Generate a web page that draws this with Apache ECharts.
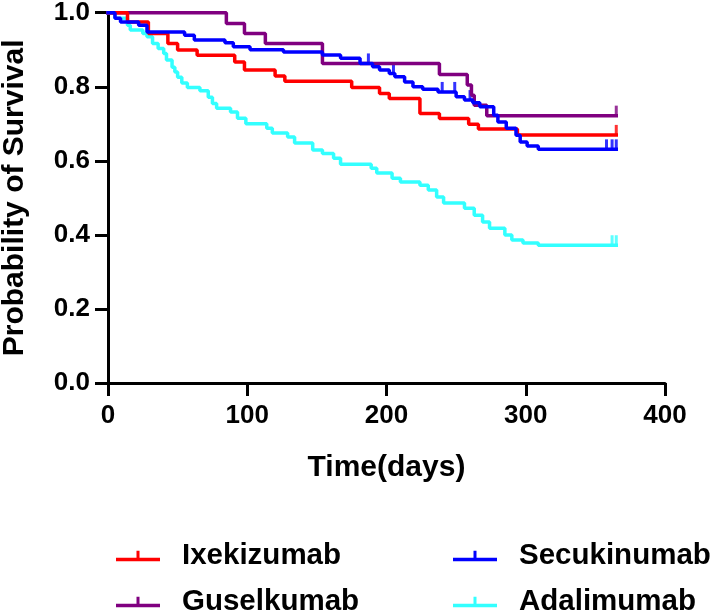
<!DOCTYPE html>
<html><head><meta charset="utf-8">
<script src="https://cdn.jsdelivr.net/npm/echarts@6/dist/echarts.min.js"></script>
<style>html,body{margin:0;padding:0;background:#fff}#c{width:711px;height:615px}</style>
</head><body><div id="c"></div>
<script>
const xTicks = [0, 100, 200, 300, 400];
const yTicks = [0, 0.2, 0.4, 0.6, 0.8, 1.0];

const seriesNames = ['Ixekizumab', 'Secukinumab', 'Guselkumab', 'Adalimumab'];

const ixeTime = [0, 14, 29, 43, 50, 64, 91, 98, 120, 127, 175, 195, 202, 224, 238, 259, 266, 294, 365];
const ixeSurv = [1.0, 0.975, 0.944, 0.917, 0.899, 0.885, 0.867, 0.845, 0.829, 0.815, 0.798, 0.782, 0.768, 0.728, 0.714, 0.699, 0.686, 0.670, 0.670];
const ixeCensor = [365];

const secTime = [0, 5, 9, 22, 28, 55, 62, 84, 90, 102, 126, 154, 167, 181, 190, 195, 202, 206, 213, 219, 226, 237, 250, 256, 262, 267, 277, 280, 286, 293, 296, 301, 309, 365];
const secSurv = [1.0, 0.985, 0.975, 0.966, 0.948, 0.939, 0.926, 0.919, 0.908, 0.900, 0.894, 0.886, 0.877, 0.863, 0.854, 0.845, 0.836, 0.827, 0.813, 0.800, 0.793, 0.786, 0.773, 0.764, 0.757, 0.746, 0.723, 0.705, 0.688, 0.669, 0.651, 0.640, 0.631, 0.631];
const secCensor = [187, 205, 240, 249, 260, 358, 362, 365];

const gusTime = [0, 85, 98, 113, 154, 238, 258, 261, 263, 272, 365];
const gusSurv = [1.0, 0.971, 0.944, 0.917, 0.863, 0.833, 0.805, 0.777, 0.750, 0.722, 0.722];
const gusCensor = [365];

const adaTime = [0, 5, 14, 16, 25, 28, 32, 36, 40, 42, 46, 48, 50, 53, 57, 66, 72, 75, 78, 88, 93, 99, 114, 118, 129, 134, 147, 154, 162, 167, 189, 193, 204, 210, 224, 230, 236, 241, 256, 263, 269, 274, 285, 290, 298, 309, 365];
const adaSurv = [1.0, 0.985, 0.966, 0.953, 0.944, 0.935, 0.917, 0.903, 0.890, 0.872, 0.853, 0.840, 0.826, 0.810, 0.798, 0.789, 0.772, 0.755, 0.742, 0.732, 0.715, 0.700, 0.688, 0.675, 0.664, 0.648, 0.629, 0.620, 0.607, 0.591, 0.580, 0.567, 0.553, 0.543, 0.534, 0.521, 0.502, 0.486, 0.472, 0.453, 0.435, 0.418, 0.400, 0.386, 0.378, 0.372, 0.372];
const adaCensor = [362, 365];

const colors = { Ixekizumab: '#FF0000', Secukinumab: '#0000FF', Guselkumab: '#800080', Adalimumab: '#33FFFF' };

function survAt(times, surv, t) {
  let v = surv[0];
  for (let i = 0; i < times.length; i++) { if (times[i] <= t) v = surv[i]; }
  return v;
}

const groups = [
  { name: 'Ixekizumab', t: ixeTime, s: ixeSurv, c: ixeCensor },
  { name: 'Secukinumab', t: secTime, s: secSurv, c: secCensor },
  { name: 'Guselkumab', t: gusTime, s: gusSurv, c: gusCensor },
  { name: 'Adalimumab', t: adaTime, s: adaSurv, c: adaCensor }
];
const drawOrder = ['Adalimumab', 'Guselkumab', 'Ixekizumab', 'Secukinumab'];

const FONT = "'Liberation Sans', Arial, sans-serif";
const series = [];
drawOrder.forEach(n => {
  const g = groups.find(x => x.name === n);
  series.push({
    name: n, type: 'line', step: 'end', showSymbol: false, clip: false,
    data: g.t.map((t, i) => [t, g.s[i]]),
    lineStyle: { width: 3.5, color: colors[n], cap: 'square' },
    itemStyle: { color: colors[n] }, silent: true, animation: false
  });
  series.push({
    name: n, type: 'scatter', clip: false,
    data: g.c.map(t => [t, survAt(g.t, g.s, t)]),
    symbol: 'rect', symbolSize: [3, 10], symbolOffset: [0, -5],
    itemStyle: { color: colors[n] }, silent: true, animation: false
  });
});

const icon = 'path://M0,9 L44,9 L44,12.5 L0,12.5 Z M20.5,2 L23.5,2 L23.5,9 L20.5,9 Z';
const legendPos = {
  Ixekizumab: [116, 541], Secukinumab: [453, 541],
  Guselkumab: [116, 587], Adalimumab: [453, 587]
};
const legends = seriesNames.map(n => ({
  data: [n], left: legendPos[n][0], top: legendPos[n][1], orient: 'horizontal',
  icon: icon, itemWidth: 44, itemHeight: 12, selectedMode: false, padding: 0,
  textStyle: { fontFamily: FONT, fontWeight: 'bold', fontSize: 29.5, color: '#000', padding: [0, 0, 0, 17] }
}));

const chart = echarts.init(document.getElementById('c'), null, { renderer: 'canvas' });
chart.setOption({
  animation: false,
  backgroundColor: '#fff',
  grid: { left: 108, right: 46, top: 12.7, bottom: 232, containLabel: false, outerBoundsMode: 'none' },
  legend: legends,
  xAxis: {
    type: 'value', min: xTicks[0], max: xTicks[xTicks.length - 1], interval: 100,
    name: 'Time(days)', nameLocation: 'middle', nameGap: 70,
    nameTextStyle: { fontFamily: FONT, fontWeight: 'bold', fontSize: 30, color: '#000' },
    axisLine: { show: true, onZero: false, lineStyle: { color: '#000', width: 3 } },
    axisTick: { show: true, length: 13, lineStyle: { color: '#000', width: 3 } },
    axisLabel: { margin: 20, fontFamily: FONT, fontWeight: 'bold', fontSize: 26, color: '#000',
      formatter: v => xTicks.includes(v) ? String(v) : '' },
    splitLine: { show: false }
  },
  yAxis: {
    type: 'value', min: yTicks[0], max: yTicks[yTicks.length - 1], interval: 0.2,
    name: 'Probability of Survival', nameLocation: 'middle', nameGap: 78, nameRotate: 90,
    nameTextStyle: { fontFamily: FONT, fontWeight: 'bold', fontSize: 30, color: '#000' },
    axisLine: { show: true, onZero: false, lineStyle: { color: '#000', width: 3 } },
    axisTick: { show: true, length: 13, lineStyle: { color: '#000', width: 3 } },
    axisLabel: { margin: 18, fontFamily: FONT, fontWeight: 'bold', fontSize: 26, color: '#000',
      formatter: v => v.toFixed(1) },
    splitLine: { show: false }
  },
  series: series
});
</script>
</body></html>
